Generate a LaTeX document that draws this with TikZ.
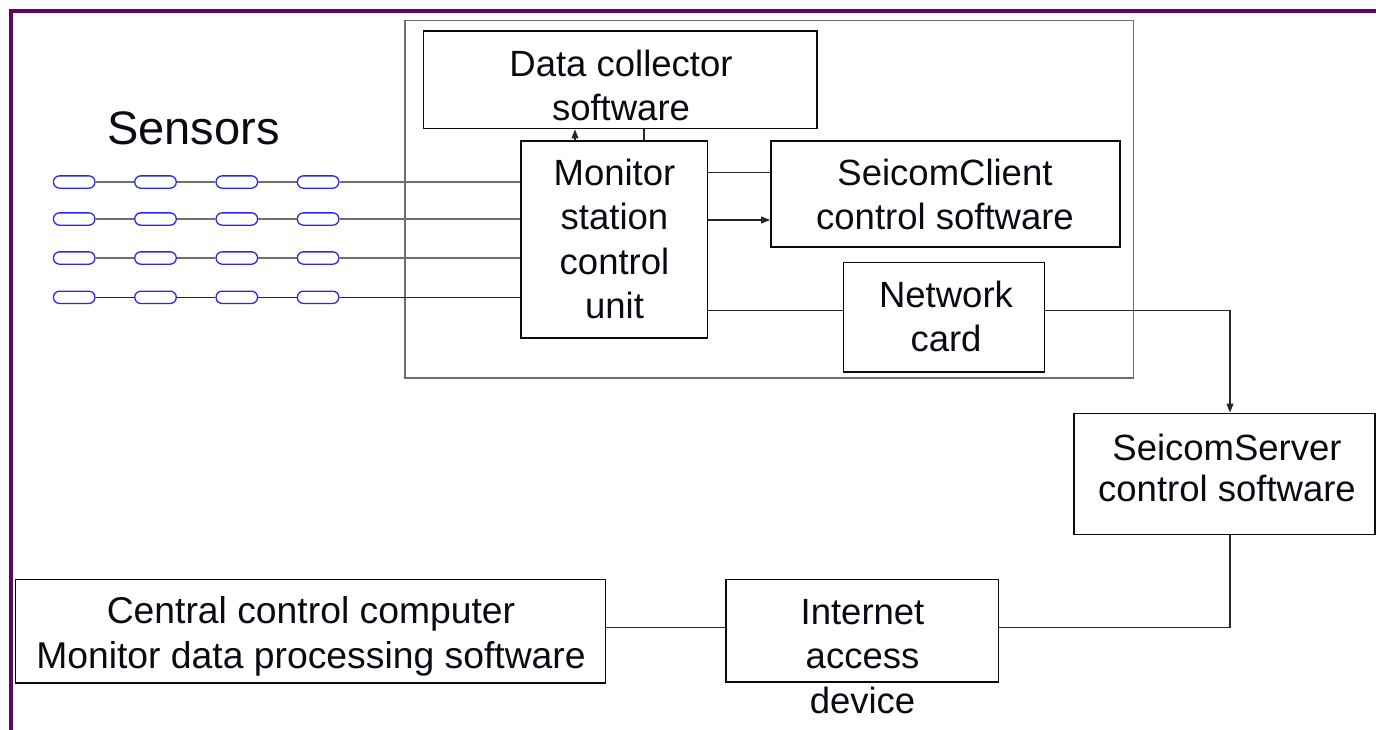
\documentclass[tikz,border=0pt]{standalone}
\usepackage{fontspec}
\setmainfont{Liberation Sans}
\usetikzlibrary{arrows.meta}
\definecolor{framepurple}{RGB}{102,0,102}
\definecolor{pillblue}{RGB}{40,40,245}
\definecolor{linegray}{RGB}{110,110,110}
\definecolor{boxline}{RGB}{10,10,20}
\tikzset{
  box/.style={draw=boxline, line width=1.9pt, inner sep=0pt, rectangle},
  lbl/.style={inner sep=0pt, anchor=base, font=\fontsize{36.5}{44.5}\selectfont, text=boxline},
  conn/.style={draw=black!85, line width=1.1pt},
  arr/.style={conn, -{Triangle[length=9pt,width=7pt]}},
  pill/.style={draw=pillblue, line width=1.3pt, rounded corners=6pt, minimum width=41.5pt, minimum height=12.3pt, inner sep=0pt},
  sline/.style={draw=linegray, line width=1.3pt},
}
\begin{document}
\begin{tikzpicture}[x=1pt,y=-1pt]
\useasboundingbox (0,0) rectangle (1376,729);
\clip (0,0) rectangle (1376,729);
% frame
\draw[framepurple, line width=4pt] (11,760) -- (11,11) -- (1420,11);
% station enclosure
\node[draw=linegray, line width=1.3pt, inner sep=0pt, minimum width=728.5pt, minimum height=357.5pt] (station) at (769.25,199.25) {};
% boxes
\node[box, minimum width=393.5pt, minimum height=97.5pt] (dc) at (620.25,79.75) {};
\node[box, minimum width=186.5pt, minimum height=197pt] (mon) at (614.25,239.5) {};
\node[box, minimum width=349pt, minimum height=106pt] (client) at (945.5,194) {};
\node[box, minimum width=201pt, minimum height=109.5pt] (net) at (944,317.25) {};
\node[box, minimum width=301pt, minimum height=121pt] (server) at (1224.5,474) {};
\node[box, minimum width=590pt, minimum height=103.5pt] (central) at (310.5,631.25) {};
\node[box, minimum width=272.5pt, minimum height=102.5pt] (inet) at (862.25,630.75) {};
% texts
\node[lbl, font=\fontsize{47}{56}\selectfont] (senslbl) at (193.5,144) {Sensors};
\node[lbl] (dctxt) at (621,76) {\begin{tabular}[t]{@{}c@{}}Data collector\\software\end{tabular}};
\node[lbl] (montxt) at (614.5,185) {\begin{tabular}[t]{@{}c@{}}Monitor\\station\\control\\unit\end{tabular}};
\node[lbl] (clienttxt) at (945,185) {\begin{tabular}[t]{@{}c@{}}SeicomClient\\control software\end{tabular}};
\node[lbl] (nettxt) at (946,307) {\begin{tabular}[t]{@{}c@{}}Network\\card\end{tabular}};
\node[lbl] (servertxt) at (1227,460) {\begin{tabular}[t]{@{}c@{}}SeicomServer\\[-3pt]control software\end{tabular}};
\node[lbl, font=\fontsize{37.3}{45}\selectfont] (centraltxt) at (311,623.5) {\begin{tabular}[t]{@{}c@{}}Central control computer\\Monitor data processing software\end{tabular}};
\node[lbl] (inettxt) at (862.5,624) {\begin{tabular}[t]{@{}c@{}}Internet\\access\\device\end{tabular}};
% sensors
\foreach \r/\yy/\lc in {1/182/linegray, 2/219/linegray, 3/258/linegray, 4/297.3/black!85}{
  \foreach \c/\xx in {1/74.2, 2/155.5, 3/236.8, 4/318.1}{
    \node[pill] (s\r\c) at (\xx,\yy) {};
  }
  \draw[sline, draw=\lc] (s\r1) -- (s\r2);
  \draw[sline, draw=\lc] (s\r2) -- (s\r3);
  \draw[sline, draw=\lc] (s\r3) -- (s\r4);
  \draw[sline, draw=\lc] (s\r4) -- (mon.west |- s\r4);
}
% connectors
\draw[arr] (575,0 |- mon.north) -- (575,0 |- dc.south);
\draw[conn] (644,0 |- mon.north) -- (644,0 |- dc.south);
\draw[conn] (mon.east |- 0,172.3) -- (client.west |- 0,172.3);
\draw[arr] (mon.east |- 0,220) -- (client.west |- 0,220);
\draw[conn] (mon.east |- 0,310.7) -- (net.west |- 0,310.7);
\draw[arr] (net.east |- 0,310.7) -| (server.north -| 1230,0);
\draw[conn] (server.south -| 1230,0) |- (inet.east |- 0,627.7);
\draw[conn] (central.east |- 0,627.7) -- (inet.west |- 0,627.7);
\end{tikzpicture}
\end{document}
